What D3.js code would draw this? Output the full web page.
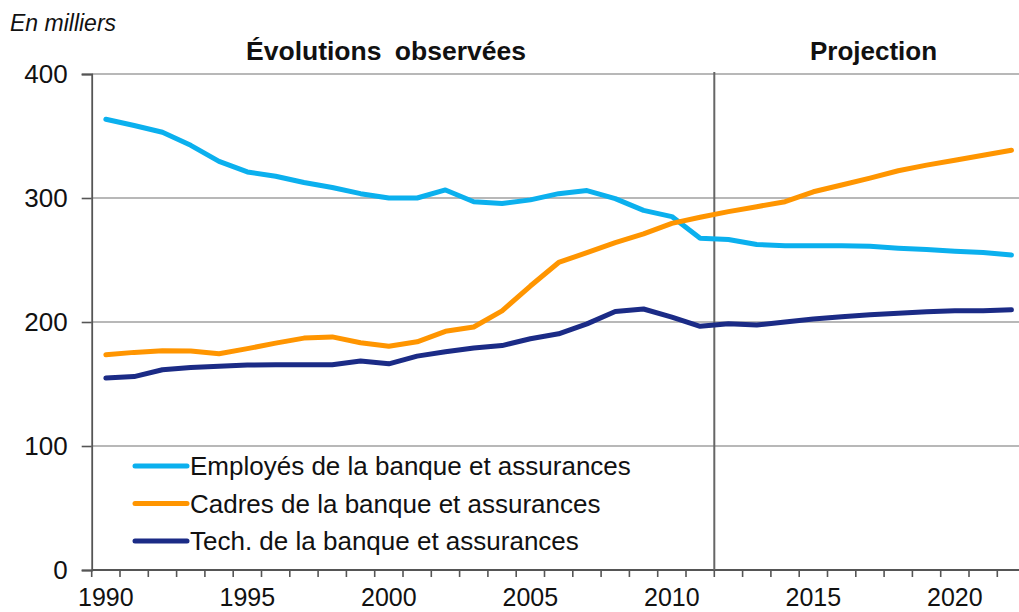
<!DOCTYPE html>
<html>
<head>
<meta charset="utf-8">
<script src="https://cdn.jsdelivr.net/npm/d3@7"></script>
<style>
  html, body { margin: 0; padding: 0; background: #fff; }
  svg { display: block; font-family: "Liberation Sans", Arial, sans-serif; }
</style>
</head>
<body>
<svg id="chart" width="1019" height="612"></svg>
<script>
// Effectifs (en milliers), banque et assurances, 1990-2022
const years = d3.range(1990, 2023);
const employes = [363.5, 358.5, 353, 342.5, 329.5, 321, 317.5, 312.5, 308.5, 303.5, 300, 300, 306.5, 297, 295.5, 298.5,
  303.5, 306, 299.5, 290, 285, 267.5, 266.5, 262.5, 261.5, 261.5, 261.5, 261, 259.5, 258.5, 257, 256, 254];
const cadres = [173.5, 175.5, 176.8, 176.6, 174.4, 178.5, 183, 187, 188, 183.3, 180.5, 184, 192.5, 196, 209, 229,
  248, 256, 264, 271, 279.5, 284.5, 289, 293, 297, 305, 310.5, 316, 322, 326.5, 330.5, 334.5, 338.5];
const techniciens = [154.8, 156, 161.5, 163.4, 164.4, 165.3, 165.5, 165.5, 165.5, 168.5, 166.3, 172.5, 176, 179, 181, 186.5,
  190.5, 198.5, 208.5, 210.5, 204, 196.5, 198.5, 197.5, 200, 202.5, 204.3, 205.8, 207, 208.2, 209, 209, 209.8];
const seriesNames = ["Employés de la banque et assurances", "Cadres de la banque et assurances", "Tech. de la banque et assurances"];
const seriesColors = ["#0BB0EE", "#FF9500", "#1B2B86"];
const yTicks = [0, 100, 200, 300, 400];
const xLabels = [1990, 1995, 2000, 2005, 2010, 2015, 2020];
const lastObserved = 2011;

const series = [employes, cadres, techniciens];

const svg = d3.select("#chart");
const plotLeft = 91.7, plotBottom = 570, plotTop = 74;
const band = 28.3;
const plotRight = plotLeft + band * years.length;

const x = d3.scaleBand().domain(years).range([plotLeft, plotRight]).paddingInner(0).paddingOuter(0);
const y = d3.scaleLinear().domain([0, 400]).range([plotBottom, plotTop]);

// horizontal gridlines
svg.append("g")
  .selectAll("line")
  .data(yTicks.filter(v => v > 0))
  .join("line")
  .attr("x1", plotLeft).attr("x2", plotRight)
  .attr("y1", d => y(d)).attr("y2", d => y(d))
  .attr("stroke", "#a0a0a0").attr("stroke-width", 1.6);

// y axis
const yAxis = d3.axisLeft(y).tickValues(yTicks).tickSize(10).tickPadding(14).tickFormat(d3.format("d"));
const gy = svg.append("g").attr("transform", `translate(${plotLeft},0)`).call(yAxis);
gy.select(".domain").attr("stroke", "#555").attr("stroke-width", 1.8);
gy.selectAll(".tick line").attr("stroke", "#555").attr("stroke-width", 1.6);
gy.selectAll(".tick text").attr("font-size", 26).attr("fill", "#111")
  .attr("font-family", "Liberation Sans, Arial, sans-serif");

// x axis: ticks on category boundaries, labels at category centres
const gx = svg.append("g");
gx.append("line").attr("x1", plotLeft).attr("x2", plotRight).attr("y1", plotBottom).attr("y2", plotBottom)
  .attr("stroke", "#555").attr("stroke-width", 1.8);
const boundaries = years.map(yr => x(yr)).concat([plotRight]);
gx.selectAll("line.tk").data(boundaries).join("line").attr("class", "tk")
  .attr("x1", d => d).attr("x2", d => d).attr("y1", plotBottom).attr("y2", plotBottom + 7)
  .attr("stroke", "#555").attr("stroke-width", 1.6);
gx.selectAll("text").data(xLabels).join("text")
  .attr("x", d => x(d) + x.bandwidth() / 2)
  .attr("y", 606)
  .attr("text-anchor", "middle")
  .attr("font-size", 25).attr("fill", "#111")
  .text(d => d);

// separator between observed values and projection
const sepX = x(lastObserved) + x.bandwidth();
svg.append("line").attr("x1", sepX).attr("x2", sepX).attr("y1", plotTop - 2).attr("y2", plotBottom)
  .attr("stroke", "#666").attr("stroke-width", 2);

// series lines
const line = d3.line().x((d, i) => x(years[i]) + x.bandwidth() / 2).y(d => y(d));
svg.append("g").selectAll("path").data(series).join("path")
  .attr("d", d => line(d))
  .attr("fill", "none")
  .attr("stroke", (d, i) => seriesColors[i])
  .attr("stroke-width", 5)
  .attr("stroke-linejoin", "round")
  .attr("stroke-linecap", "round");

// headings
svg.append("text").attr("x", 10).attr("y", 31).attr("font-size", 23).attr("font-style", "italic")
  .attr("fill", "#111").text("En milliers");
svg.append("text").attr("x", 386).attr("y", 60).attr("text-anchor", "middle").attr("font-size", 26.5)
  .attr("font-weight", "bold").attr("word-spacing", 6).attr("fill", "#111").text("Évolutions observées");
svg.append("text").attr("x", 873.5).attr("y", 60).attr("text-anchor", "middle").attr("font-size", 26)
  .attr("font-weight", "bold").attr("fill", "#111").text("Projection");

// legend
const legendRows = [466, 503.5, 541];
const lg = svg.append("g");
seriesNames.forEach((name, i) => {
  lg.append("line").attr("x1", 135).attr("x2", 187).attr("y1", legendRows[i]).attr("y2", legendRows[i])
    .attr("stroke", seriesColors[i]).attr("stroke-width", 5).attr("stroke-linecap", "round");
  lg.append("text").attr("x", 190).attr("y", legendRows[i] + 9).attr("font-size", 26)
    .attr("fill", "#111").text(name);
});
</script>
</body>
</html>
